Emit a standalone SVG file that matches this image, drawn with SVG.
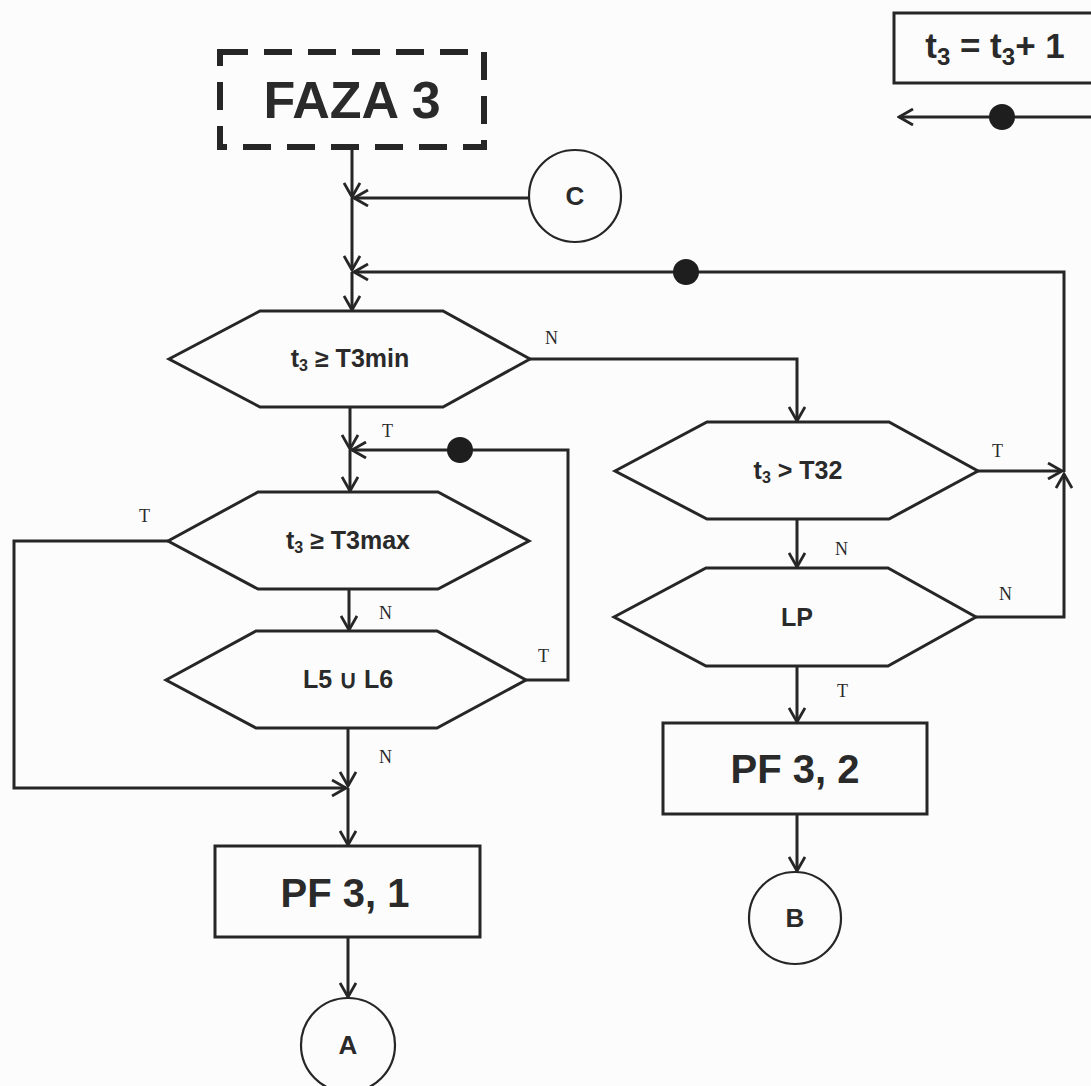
<svg xmlns="http://www.w3.org/2000/svg" width="1091" height="1086" viewBox="0 0 1091 1086">
<style>
.shape{fill:none;stroke:#262626;stroke-width:3;stroke-linejoin:miter}
.dash{fill:none;stroke:#262626;stroke-width:6;stroke-dasharray:28 16}
.circ{fill:none;stroke:#262626;stroke-width:2.2}
.con{fill:none;stroke:#262626;stroke-width:3}
.dot{fill:#1e1e1e}
.t{font-family:"Liberation Sans",Arial,sans-serif;font-weight:bold;fill:#2a2a2a;text-anchor:middle}
.lbl{font-family:"Liberation Serif","Times New Roman",serif;font-size:18px;fill:#2a2a2a}
</style>
<defs>
<marker id="arr" viewBox="0 0 18 18" refX="16" refY="9" markerWidth="18" markerHeight="18" markerUnits="userSpaceOnUse" orient="auto">
<path d="M2,1 L16,9 L2,17" fill="none" stroke="#262626" stroke-width="2.8"/>
</marker>
</defs>
<rect width="1091" height="1086" fill="#fcfcfc"/>

<g id="faza3">
<rect class="dash" x="220" y="52" width="264" height="95"/>
<text class="t" x="352" y="118" font-size="52">FAZA 3</text>
</g>

<g id="legend">
<rect class="shape" x="894" y="13" width="220" height="70"/>
<text class="t" x="995" y="58" font-size="35">t<tspan font-size="24" dy="7">3</tspan><tspan dy="-7"> = t</tspan><tspan font-size="24" dy="7">3</tspan><tspan dy="-7">+ 1</tspan></text>
</g>

<g id="nodeC">
<circle class="circ" cx="575" cy="196" r="46"/>
<text class="t" x="575" y="205" font-size="26">C</text>
</g>

<g id="hex1">
<polygon class="shape" points="169,359 260,311 443,311 530,359 443,407 260,407"/>
<text class="t" x="350" y="367" font-size="25">t<tspan font-size="16" dy="4">3</tspan><tspan dy="-4"> ≥ T3min</tspan></text>
</g>

<g id="hex2">
<polygon class="shape" points="168,541 258,492 438,492 529,541 438,589 258,589"/>
<text class="t" x="348" y="549" font-size="25">t<tspan font-size="16" dy="4">3</tspan><tspan dy="-4"> ≥ T3max</tspan></text>
</g>

<g id="hex3">
<polygon class="shape" points="166,680 256,631 437,631 526,680 437,728 256,728"/>
<text class="t" x="348" y="688" font-size="25">L5 ∪ L6</text>
</g>

<g id="hexT32">
<polygon class="shape" points="615,471 707,422 889,422 978,471 889,519 707,519"/>
<text class="t" x="798" y="479" font-size="25">t<tspan font-size="16" dy="4">3</tspan><tspan dy="-4"> &gt; T32</tspan></text>
</g>

<g id="hexLP">
<polygon class="shape" points="614,617 706,568 888,568 976,617 888,666 706,666"/>
<text class="t" x="797" y="626" font-size="25">LP</text>
</g>

<g id="pf31">
<rect class="shape" x="215" y="846" width="265" height="91"/>
<text class="t" x="345" y="907" font-size="40">PF 3, 1</text>
</g>

<g id="pf32">
<rect class="shape" x="663" y="723" width="264" height="91"/>
<text class="t" x="795" y="783" font-size="40">PF 3, 2</text>
</g>

<g id="nodeA">
<circle class="circ" cx="348" cy="1045" r="47"/>
<text class="t" x="348" y="1054" font-size="26">A</text>
</g>

<g id="nodeB">
<circle class="circ" cx="795" cy="918" r="46"/>
<text class="t" x="795" y="927" font-size="26">B</text>
</g>

<g id="connectors">
<path class="con" d="M352,147 V197" marker-end="url(#arr)"/>
<path class="con" d="M529,198 H354" marker-end="url(#arr)"/>
<path class="con" d="M352,198 V270" marker-end="url(#arr)"/>
<path class="con" d="M1064,472 V272 H354" marker-end="url(#arr)"/>
<circle class="dot" cx="686" cy="272" r="13"/>
<path class="con" d="M352,272 V310" marker-end="url(#arr)"/>
<path class="con" d="M350,407 V449" marker-end="url(#arr)"/>
<path class="con" d="M526,680 H568 V450 H352" marker-end="url(#arr)"/>
<circle class="dot" cx="460" cy="450" r="13"/>
<path class="con" d="M350,450 V491" marker-end="url(#arr)"/>
<path class="con" d="M168,541 H14 V788 H346" marker-end="url(#arr)"/>
<path class="con" d="M349,589 V630" marker-end="url(#arr)"/>
<path class="con" d="M348,728 V786" marker-end="url(#arr)"/>
<path class="con" d="M348,788 V845" marker-end="url(#arr)"/>
<path class="con" d="M348,937 V997" marker-end="url(#arr)"/>
<path class="con" d="M530,359 H797 V421" marker-end="url(#arr)"/>
<path class="con" d="M978,471 H1062" marker-end="url(#arr)"/>
<path class="con" d="M797,519 V567" marker-end="url(#arr)"/>
<path class="con" d="M976,617 H1064 V474" marker-end="url(#arr)"/>
<path class="con" d="M797,666 V722" marker-end="url(#arr)"/>
<path class="con" d="M797,814 V871" marker-end="url(#arr)"/>
<path class="con" d="M1091,117 H899" marker-end="url(#arr)"/>
<circle class="dot" cx="1002" cy="117" r="13"/>
<text class="lbl" x="545" y="344">N</text>
<text class="lbl" x="382" y="437">T</text>
<text class="lbl" x="139" y="522">T</text>
<text class="lbl" x="379" y="619">N</text>
<text class="lbl" x="538" y="662">T</text>
<text class="lbl" x="379" y="763">N</text>
<text class="lbl" x="992" y="457">T</text>
<text class="lbl" x="835" y="555">N</text>
<text class="lbl" x="999" y="600">N</text>
<text class="lbl" x="837" y="697">T</text>
</g>
</svg>
